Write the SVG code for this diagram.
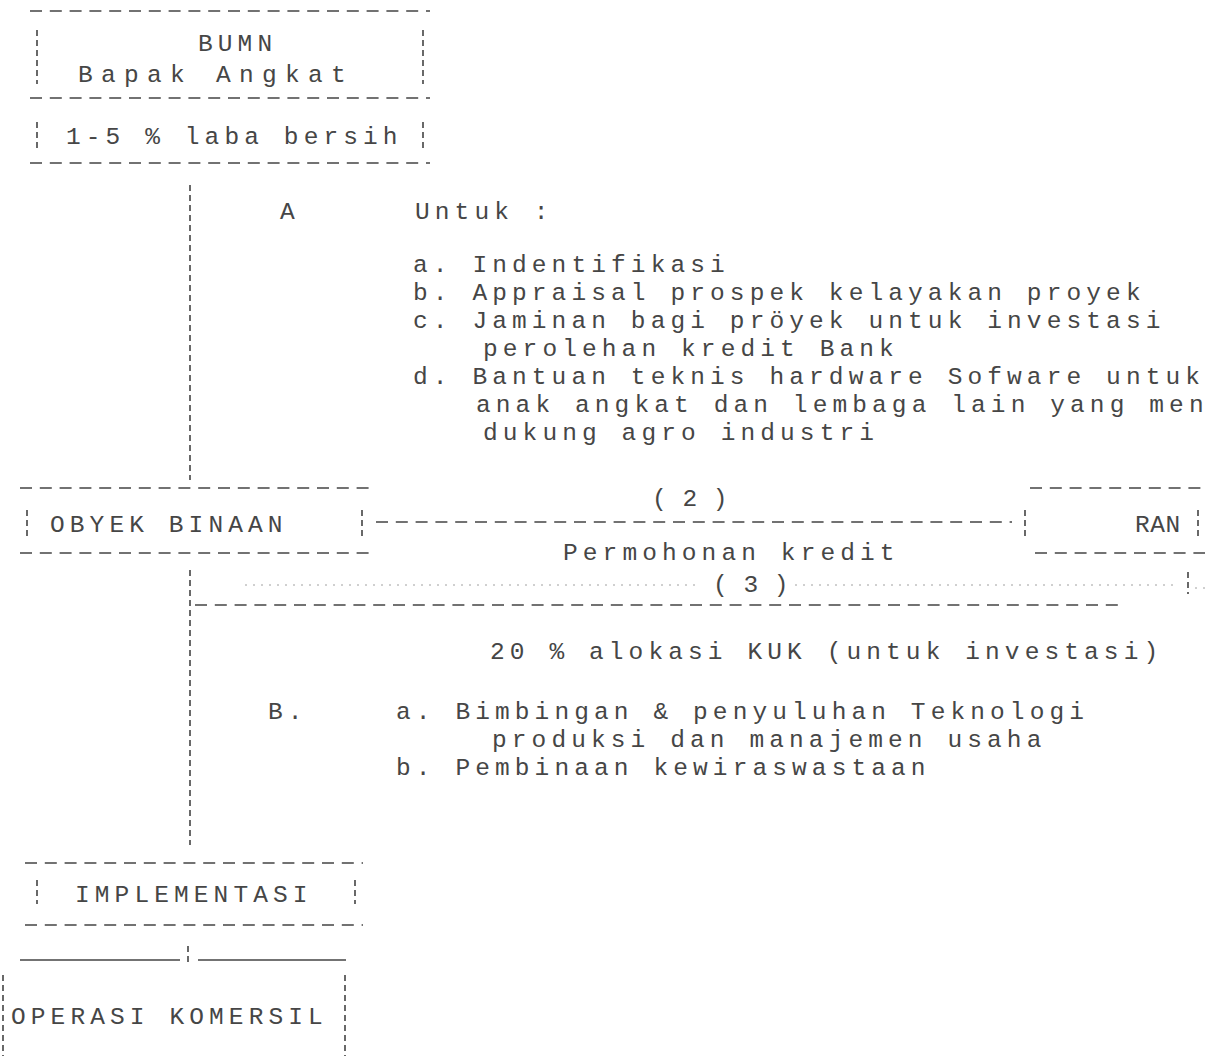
<svg xmlns="http://www.w3.org/2000/svg" width="1211" height="1062" viewBox="0 0 1211 1062">
<style>
.t{font-family:'Liberation Mono','DejaVu Sans Mono',monospace;font-size:24.5px;letter-spacing:5.1px;fill:#464646}
.w{letter-spacing:8.3px}
.n{letter-spacing:0.5px}
.h{stroke:#444;stroke-width:1.6;stroke-dasharray:12 7.8;fill:none}
.v{stroke:#444;stroke-width:1.6;stroke-dasharray:6 4;fill:none}
.u{stroke:#444;stroke-width:1.4;fill:none}
.f{stroke:#a0a0a0;stroke-width:1;stroke-dasharray:2 6;fill:none}
</style>
<rect width="1211" height="1062" fill="#ffffff"/>

<g id="connectors">
  <line class="v" x1="190" y1="185" x2="190" y2="480"/>
  <line class="h" x1="376" y1="522" x2="1012" y2="522"/>
  <line class="v" x1="190" y1="570" x2="190" y2="845"/>
  <line class="f" x1="245" y1="585" x2="695" y2="585"/>
  <line class="f" x1="795" y1="585" x2="1178" y2="585"/>
  <line class="v" x1="1188" y1="572" x2="1188" y2="594"/>
  <line class="f" x1="1195" y1="588" x2="1211" y2="588"/>
  <line class="h" x1="195" y1="605" x2="1125" y2="605"/>
  <line class="u" x1="20" y1="960" x2="180" y2="960"/>
  <line class="u" x1="198" y1="960" x2="346" y2="960"/>
  <line class="v" x1="188" y1="946" x2="188" y2="964"/>
</g>

<g id="label-A">
  <text class="t" x="280" y="219">A</text>
  <text class="t" x="415" y="219">Untuk :</text>
  <text class="t" x="413" y="272">a. Indentifikasi</text>
  <text class="t" x="413" y="300">b. Appraisal prospek kelayakan proyek</text>
  <text class="t" x="413" y="328">c. Jaminan bagi pröyek untuk investasi</text>
  <text class="t" x="483" y="356">perolehan kredit Bank</text>
  <text class="t" x="413" y="384">d. Bantuan teknis hardware Sofware untuk</text>
  <text class="t" x="476" y="412">anak angkat dan lembaga lain yang men</text>
  <text class="t" x="483" y="440">dukung agro industri</text>
</g>

<g id="label-2">
  <text class="t n" x="652" y="506">( 2 )</text>
  <text class="t" x="563" y="560">Permohonan kredit</text>
  <text class="t n" x="713" y="592">( 3 )</text>
</g>

<g id="label-B">
  <text class="t" x="490" y="659">20 % alokasi KUK (untuk investasi)</text>
  <text class="t" x="268" y="719">B.</text>
  <text class="t" x="396" y="719">a. Bimbingan &amp; penyuluhan Teknologi</text>
  <text class="t" x="492" y="747">produksi dan manajemen usaha</text>
  <text class="t" x="396" y="775">b. Pembinaan kewiraswastaan</text>
</g>

<g id="node-bumn">
  <line class="h" x1="30" y1="11" x2="430" y2="11"/>
  <line class="v" x1="37" y1="30" x2="37" y2="84"/>
  <line class="v" x1="423" y1="30" x2="423" y2="84"/>
  <text class="t" x="198" y="51">BUMN</text>
  <text class="t w" x="78" y="82">Bapak Angkat</text>
  <line class="h" x1="30" y1="98" x2="430" y2="98"/>
  <line class="v" x1="37" y1="122" x2="37" y2="148"/>
  <line class="v" x1="423" y1="122" x2="423" y2="148"/>
  <text class="t" x="66" y="144">1-5 % laba bersih</text>
  <line class="h" x1="30" y1="163" x2="430" y2="163"/>
</g>

<g id="node-obyek">
  <line class="h" x1="20" y1="488" x2="370" y2="488"/>
  <line class="v" x1="27" y1="510" x2="27" y2="536"/>
  <line class="v" x1="362" y1="510" x2="362" y2="536"/>
  <text class="t" x="50" y="532">OBYEK BINAAN</text>
  <line class="h" x1="20" y1="553" x2="370" y2="553"/>
</g>

<g id="node-ran">
  <line class="h" x1="1030" y1="488" x2="1205" y2="488"/>
  <line class="v" x1="1025" y1="510" x2="1025" y2="536"/>
  <line class="v" x1="1198" y1="510" x2="1198" y2="536"/>
  <text class="t n" x="1135" y="532">RAN</text>
  <line class="h" x1="1035" y1="553" x2="1205" y2="553"/>
</g>

<g id="node-implementasi">
  <line class="h" x1="25" y1="863" x2="363" y2="863"/>
  <line class="v" x1="37" y1="880" x2="37" y2="904"/>
  <line class="v" x1="355" y1="880" x2="355" y2="904"/>
  <text class="t" x="75" y="902">IMPLEMENTASI</text>
  <line class="h" x1="25" y1="925" x2="363" y2="925"/>
</g>

<g id="node-operasi">
  <line class="v" x1="3" y1="975" x2="3" y2="1056"/>
  <line class="v" x1="345" y1="975" x2="345" y2="1056"/>
  <text class="t" x="11" y="1024">OPERASI KOMERSIL</text>
</g>
</svg>
